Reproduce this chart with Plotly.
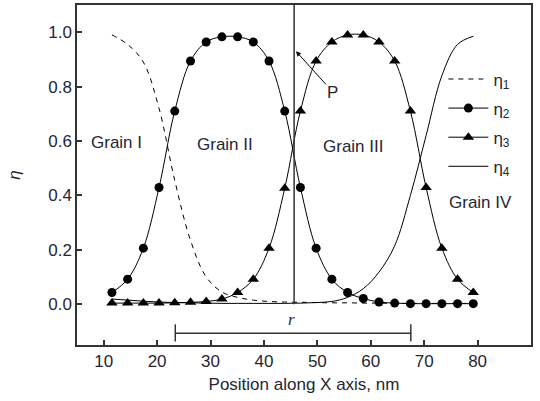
import plotly.graph_objects as go

# ---- data ----
position_nm = [11.54, 14.48, 17.42, 20.36, 23.30, 26.25, 29.19, 32.13, 35.07, 38.01,
               40.95, 43.89, 46.83, 49.77, 52.72, 55.66, 58.60, 61.54, 64.48, 67.42,
               70.36, 73.31, 76.25, 79.19]
eta1 = [0.99, 0.955, 0.89, 0.72, 0.455, 0.235, 0.10, 0.045, 0.025, 0.015,
        0.010, 0.008, 0.007, 0.006, 0.005, 0.005, 0.004, 0.004, 0.003, 0.003,
        0.003, 0.003, 0.003, 0.003]
eta2 = [0.043, 0.092, 0.206, 0.429, 0.71, 0.894, 0.964, 0.983, 0.983, 0.964,
        0.894, 0.71, 0.429, 0.206, 0.092, 0.043, 0.021, 0.008, 0.004, 0.002,
        0.002, 0.002, 0.002, 0.002]
eta3 = [0.004, 0.004, 0.004, 0.004, 0.005, 0.007, 0.010, 0.019, 0.043, 0.092,
        0.206, 0.426, 0.71, 0.894, 0.964, 0.99, 0.99, 0.964, 0.894, 0.71,
        0.429, 0.206, 0.092, 0.043]
eta4 = [0.019, 0.015, 0.011, 0.008, 0.006, 0.005, 0.004, 0.003, 0.003, 0.003,
        0.003, 0.003, 0.004, 0.006, 0.010, 0.025, 0.057, 0.118, 0.215, 0.40,
        0.62, 0.84, 0.955, 0.985]

x_ticks = [10, 20, 30, 40, 50, 60, 70, 80, 90]
y_ticks = [0.0, 0.2, 0.4, 0.6, 0.8, 1.0]

boundary_x = 45.65          # vertical line position
r_start, r_end = 23.4, 67.5  # "r" distance bar
r_level = -0.107

grain_labels = ["Grain I", "Grain II", "Grain III", "Grain IV"]
grain_x = [12.4, 32.8, 56.7, 80.6]
grain_y = [0.594, 0.587, 0.58, 0.373]

FONT = "Liberation Sans, Arial, sans-serif"
TXT = "#262633"
AX = "#333333"

fig = go.Figure()
fig.add_trace(go.Scatter(x=position_nm, y=eta1, mode="lines", name="η<sub>1</sub>",
                         legendgroup="a",
                         line=dict(color="black", width=1, dash="5px,5px", shape="spline", smoothing=1)))
fig.add_trace(go.Scatter(x=position_nm, y=eta2, mode="lines+markers", name="η<sub>2</sub>",
                         legendgroup="b",
                         line=dict(color="black", width=1, shape="spline", smoothing=1),
                         marker=dict(symbol="circle", size=9, color="black")))
fig.add_trace(go.Scatter(x=position_nm, y=eta3, mode="lines+markers", name="η<sub>3</sub>",
                         legendgroup="c",
                         line=dict(color="black", width=1, shape="spline", smoothing=1),
                         marker=dict(symbol="triangle-up", size=10, color="black")))
fig.add_trace(go.Scatter(x=position_nm, y=eta4, mode="lines", name="η<sub>4</sub>",
                         legendgroup="d",
                         line=dict(color="black", width=1, shape="spline", smoothing=1)))

# vertical boundary line
fig.add_shape(type="line", xref="x", yref="y", x0=boundary_x, x1=boundary_x, y0=0, y1=1.1,
              line=dict(color=AX, width=1.5))
# r bar with end caps
fig.add_shape(type="line", xref="x", yref="y", x0=r_start, x1=r_end, y0=r_level, y1=r_level,
              line=dict(color=AX, width=1.5))
for xe in (r_start, r_end):
    fig.add_shape(type="line", xref="x", yref="y", x0=xe, x1=xe, y0=r_level - 0.03, y1=r_level + 0.033,
                  line=dict(color=AX, width=1.5))
fig.add_annotation(x=(r_start + r_end) / 2 - 0.3, y=-0.057, xref="x", yref="y", text="<i>r</i>",
                   showarrow=False, font=dict(family="Liberation Serif, serif", size=17, color=TXT))

# grain labels
for t, gx, gy in zip(grain_labels, grain_x, grain_y):
    fig.add_annotation(x=gx, y=gy, xref="x", yref="y", text=t, showarrow=False,
                       font=dict(family=FONT, size=17, color=TXT))

# P arrow
fig.add_annotation(x=46.0, y=0.93, ax=52.9, ay=0.78, xref="x", yref="y", axref="x", ayref="y",
                   text="P", showarrow=True, arrowhead=2, arrowsize=1, arrowwidth=1,
                   arrowcolor="black", font=dict(family=FONT, size=17, color=TXT))

fig.update_layout(
    width=540, height=401,
    margin=dict(l=77, r=9, t=5, b=56),
    paper_bgcolor="white", plot_bgcolor="white",
    font=dict(family=FONT, size=17, color=TXT),
    showlegend=True,
    legend=dict(x=0.807, y=0.834, xanchor="left", yanchor="top", bgcolor="rgba(0,0,0,0)",
                borderwidth=0, tracegroupgap=4, itemwidth=40,
                font=dict(family=FONT, size=17, color=TXT)),
    xaxis=dict(range=[5, 90], tickvals=x_ticks, ticks="inside", ticklen=5, tickwidth=1.5,
               tickcolor=AX, showline=True, linecolor=AX, linewidth=1.5, mirror=True,
               showgrid=False, zeroline=False, ticklabelstandoff=0, automargin=False,
               title=dict(text="Position along X axis, nm", standoff=8,
                          font=dict(family=FONT, size=17, color=TXT))),
    yaxis=dict(range=[-0.15, 1.1], tickvals=y_ticks, tickformat=".1f", ticks="inside", ticklen=5,
               tickwidth=1.5, tickcolor=AX, showline=True, linecolor=AX, linewidth=1.5, mirror=True,
               showgrid=False, zeroline=False, ticklabelstandoff=0, automargin=False,
               title=dict(text="<i>η</i>", standoff=23,
                          font=dict(family=FONT, size=17, color=TXT))),
)

fig.write_html("out.html", config={"displayModeBar": False},
               post_script="document.body.style.margin='0';")
